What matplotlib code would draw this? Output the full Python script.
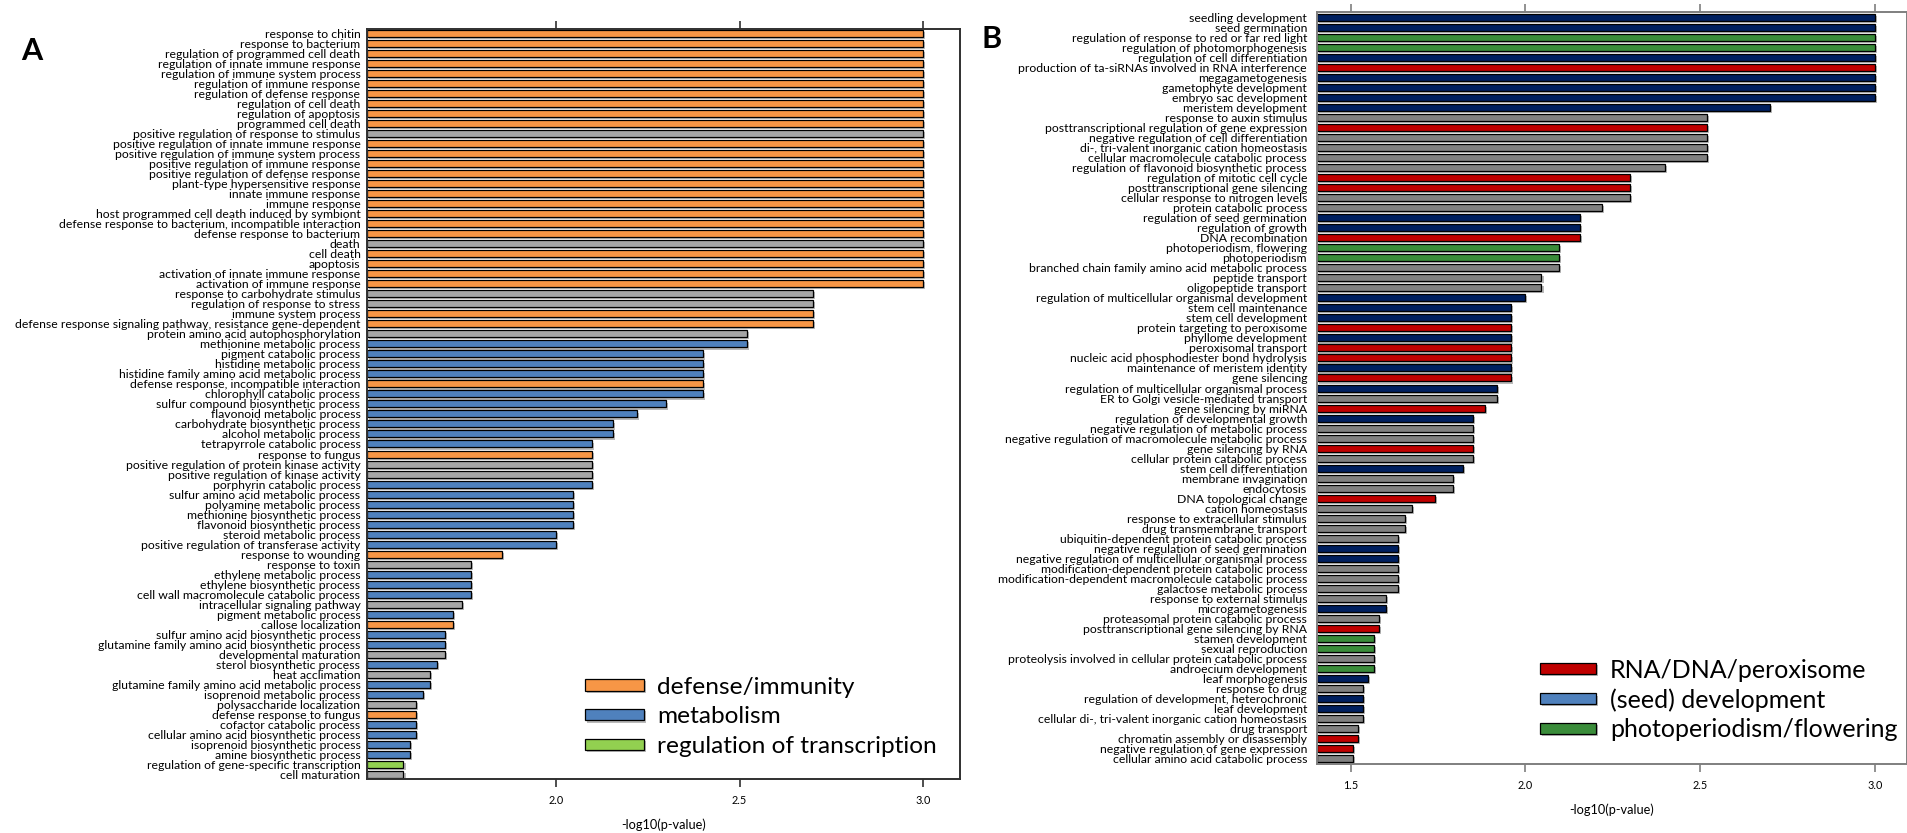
import matplotlib
matplotlib.use("Agg")
import matplotlib.pyplot as plt
import matplotlib.patheffects as pe
from matplotlib.patches import Patch
import numpy as np

plt.rcParams['font.family'] = ['Lato', 'DejaVu Sans']

# Panel A: GO terms, -log10(p-value), functional group
terms_a = [
    "response to chitin", "response to bacterium", "regulation of programmed cell death",
    "regulation of innate immune response", "regulation of immune system process",
    "regulation of immune response", "regulation of defense response", "regulation of cell death",
    "regulation of apoptosis", "programmed cell death", "positive regulation of response to stimulus",
    "positive regulation of innate immune response", "positive regulation of immune system process",
    "positive regulation of immune response", "positive regulation of defense response",
    "plant-type hypersensitive response", "innate immune response", "immune response",
    "host programmed cell death induced by symbiont",
    "defense response to bacterium, incompatible interaction", "defense response to bacterium",
    "death", "cell death", "apoptosis", "activation of innate immune response",
    "activation of immune response", "response to carbohydrate stimulus",
    "regulation of response to stress", "immune system process",
    "defense response signaling pathway, resistance gene-dependent",
    "protein amino acid autophosphorylation", "methionine metabolic process",
    "pigment catabolic process", "histidine metabolic process",
    "histidine family amino acid metabolic process", "defense response, incompatible interaction",
    "chlorophyll catabolic process", "sulfur compound biosynthetic process",
    "flavonoid metabolic process", "carbohydrate biosynthetic process", "alcohol metabolic process",
    "tetrapyrrole catabolic process", "response to fungus",
    "positive regulation of protein kinase activity", "positive regulation of kinase activity",
    "porphyrin catabolic process", "sulfur amino acid metabolic process",
    "polyamine metabolic process", "methionine biosynthetic process",
    "flavonoid biosynthetic process", "steroid metabolic process",
    "positive regulation of transferase activity", "response to wounding", "response to toxin",
    "ethylene metabolic process", "ethylene biosynthetic process",
    "cell wall macromolecule catabolic process", "intracellular signaling pathway",
    "pigment metabolic process", "callose localization", "sulfur amino acid biosynthetic process",
    "glutamine family amino acid biosynthetic process", "developmental maturation",
    "sterol biosynthetic process", "heat acclimation",
    "glutamine family amino acid metabolic process", "isoprenoid metabolic process",
    "polysaccharide localization", "defense response to fungus", "cofactor catabolic process",
    "cellular amino acid biosynthetic process", "isoprenoid biosynthetic process",
    "amine biosynthetic process", "regulation of gene-specific transcription", "cell maturation",
]
scores_a = [
    3.0, 3.0, 3.0, 3.0, 3.0, 3.0, 3.0, 3.0, 3.0, 3.0,
    3.0, 3.0, 3.0, 3.0, 3.0, 3.0, 3.0, 3.0, 3.0, 3.0,
    3.0, 3.0, 3.0, 3.0, 3.0, 3.0, 2.70, 2.70, 2.70, 2.70,
    2.52, 2.52, 2.40, 2.40, 2.40, 2.40, 2.40, 2.30, 2.22, 2.155,
    2.155, 2.097, 2.097, 2.097, 2.097, 2.097, 2.046, 2.046, 2.046, 2.046,
    2.0, 2.0, 1.854, 1.77, 1.77, 1.77, 1.77, 1.745, 1.721, 1.721,
    1.699, 1.699, 1.699, 1.677, 1.658, 1.658, 1.638, 1.62, 1.62, 1.62,
    1.62, 1.602, 1.602, 1.585, 1.585,
]
groups_a = [
    "defense", "defense", "defense", "defense", "defense", "defense", "defense", "defense",
    "defense", "defense", "other", "defense", "defense", "defense", "defense", "defense",
    "defense", "defense", "defense", "defense", "defense", "other", "defense", "defense",
    "defense", "defense", "other", "other", "defense", "defense", "other", "metabolism",
    "metabolism", "metabolism", "metabolism", "defense", "metabolism", "metabolism",
    "metabolism", "metabolism", "metabolism", "metabolism", "defense", "other", "other",
    "metabolism", "metabolism", "metabolism", "metabolism", "metabolism", "metabolism",
    "metabolism", "defense", "other", "metabolism", "metabolism", "metabolism", "other",
    "metabolism", "defense", "metabolism", "metabolism", "other", "metabolism", "other",
    "metabolism", "metabolism", "other", "defense", "metabolism", "metabolism", "metabolism",
    "metabolism", "transcription", "other",
]
colors_a = {"defense": "#F79646", "metabolism": "#4F81BD",
            "transcription": "#92D050", "other": "#A6A6A6"}
legend_a = [("defense", "defense/immunity"), ("metabolism", "metabolism"),
            ("transcription", "regulation of transcription")]

# Panel B
terms_b = [
    "seedling development", "seed germination", "regulation of response to red or far red light",
    "regulation of photomorphogenesis", "regulation of cell differentiation",
    "production of ta-siRNAs involved in RNA interference", "megagametogenesis",
    "gametophyte development", "embryo sac development", "meristem development",
    "response to auxin stimulus", "posttranscriptional regulation of gene expression",
    "negative regulation of cell differentiation", "di-, tri-valent inorganic cation homeostasis",
    "cellular macromolecule catabolic process", "regulation of flavonoid biosynthetic process",
    "regulation of mitotic cell cycle", "posttranscriptional gene silencing",
    "cellular response to nitrogen levels", "protein catabolic process",
    "regulation of seed germination", "regulation of growth", "DNA recombination",
    "photoperiodism, flowering", "photoperiodism",
    "branched chain family amino acid metabolic process", "peptide transport",
    "oligopeptide transport", "regulation of multicellular organismal development",
    "stem cell maintenance", "stem cell development", "protein targeting to peroxisome",
    "phyllome development", "peroxisomal transport", "nucleic acid phosphodiester bond hydrolysis",
    "maintenance of meristem identity", "gene silencing",
    "regulation of multicellular organismal process", "ER to Golgi vesicle-mediated transport",
    "gene silencing by miRNA", "regulation of developmental growth",
    "negative regulation of metabolic process",
    "negative regulation of macromolecule metabolic process", "gene silencing by RNA",
    "cellular protein catabolic process", "stem cell differentiation", "membrane invagination",
    "endocytosis", "DNA topological change", "cation homeostasis",
    "response to extracellular stimulus", "drug transmembrane transport",
    "ubiquitin-dependent protein catabolic process", "negative regulation of seed germination",
    "negative regulation of multicellular organismal process",
    "modification-dependent protein catabolic process",
    "modification-dependent macromolecule catabolic process", "galactose metabolic process",
    "response to external stimulus", "microgametogenesis", "proteasomal protein catabolic process",
    "posttranscriptional gene silencing by RNA", "stamen development", "sexual reproduction",
    "proteolysis involved in cellular protein catabolic process", "androecium development",
    "leaf morphogenesis", "response to drug", "regulation of development, heterochronic",
    "leaf development", "cellular di-, tri-valent inorganic cation homeostasis", "drug transport",
    "chromatin assembly or disassembly", "negative regulation of gene expression",
    "cellular amino acid catabolic process",
]
scores_b = [
    3.0, 3.0, 3.0, 3.0, 3.0, 3.0, 3.0, 3.0, 3.0, 2.70,
    2.52, 2.52, 2.52, 2.52, 2.52, 2.40, 2.30, 2.30, 2.30, 2.22,
    2.155, 2.155, 2.155, 2.097, 2.097, 2.097, 2.046, 2.046, 2.0, 1.958,
    1.958, 1.958, 1.958, 1.958, 1.958, 1.958, 1.958, 1.918, 1.918, 1.883,
    1.85, 1.85, 1.85, 1.85, 1.85, 1.822, 1.793, 1.793, 1.74, 1.675,
    1.656, 1.656, 1.636, 1.636, 1.636, 1.636, 1.636, 1.636, 1.60, 1.60,
    1.582, 1.582, 1.566, 1.566, 1.566, 1.566, 1.549, 1.535, 1.535, 1.535,
    1.535, 1.52, 1.52, 1.506, 1.506,
]
groups_b = [
    "dev", "dev", "flower", "flower", "dev", "rna", "dev", "dev", "dev", "dev",
    "other", "rna", "other", "other", "other", "other", "rna", "rna", "other", "other",
    "dev", "dev", "rna", "flower", "flower", "other", "other", "other", "dev", "dev",
    "dev", "rna", "dev", "rna", "rna", "dev", "rna", "dev", "other", "rna",
    "dev", "other", "other", "rna", "other", "dev", "other", "other", "rna", "other",
    "other", "other", "other", "dev", "dev", "other", "other", "other", "other", "dev",
    "other", "rna", "flower", "flower", "other", "flower", "dev", "other", "dev", "dev",
    "other", "other", "rna", "rna", "other",
]
colors_b = {"rna": "#C00000", "dev": "#002060", "flower": "#3A8C3A", "other": "#808080"}
legend_b = [("#C00000", "RNA/DNA/peroxisome"), ("#4F81BD", "(seed) development"),
            ("#3A8C3A", "photoperiodism/flowering")]

shadow = [pe.SimplePatchShadow(offset=(1.5, -1.5), shadow_rgbFace="#8c8c8c", alpha=0.6),
          pe.Normal()]


def draw_panel(ax, terms, scores, colors, xlim, xticks, spine_color, label_pad, label_size):
    y = np.arange(len(terms))
    ax.barh(y, np.array(scores) - xlim[0], left=xlim[0], height=0.7,
            color=colors, edgecolor="black", linewidth=0.9, path_effects=shadow)
    ax.set_yticks(y)
    ax.set_yticklabels(terms, fontsize=label_size)
    ax.set_ylim(len(terms) - 0.5, -0.5)
    ax.set_xlim(*xlim)
    ax.set_xticks(xticks)
    ax.set_xticklabels([f"{t:.1f}" for t in xticks], fontsize=7.8)
    ax.tick_params(axis="y", length=0, pad=label_pad)
    ax.tick_params(axis="x", direction="out", length=5.5, width=1.2, color=spine_color,
                   top=True, bottom=True, labeltop=False, pad=6)
    for s in ax.spines.values():
        s.set_color(spine_color)
        s.set_linewidth(1.4)
    ax.set_xlabel("-log10(p-value)", fontsize=9.2)
    ax.xaxis.set_label_coords(0.5, -0.061)
    ax.xaxis.label.set_va("center")


fig = plt.figure(figsize=(19.07, 8.33), dpi=100)

ax_a = fig.add_axes([0.1923, 0.0645, 0.3111, 0.9011])
draw_panel(ax_a, terms_a, scores_a, [colors_a[g] for g in groups_a],
           (1.485, 3.1), [2.0, 2.5, 3.0], "#303030", 4.5, 8.8)
handles_a = [Patch(facecolor=colors_a[k], edgecolor="black", linewidth=0.9,
                   path_effects=shadow, label=lab) for k, lab in legend_a]
ax_a.legend(handles=handles_a, loc="center left", bbox_to_anchor=(0.3068, 0.1393),
            bbox_transform=fig.transFigure, frameon=False, fontsize=17.6,
            handlelength=2.4, handleheight=0.35, handletextpad=0.55,
            labelspacing=0.36, borderpad=0, borderaxespad=0)

ax_b = fig.add_axes([0.6905, 0.0832, 0.3095, 0.9020])
draw_panel(ax_b, terms_b, scores_b, [colors_b[g] for g in groups_b],
           (1.403, 3.092), [1.5, 2.0, 2.5, 3.0], "#7f7f7f", 7, 8.8)
handles_b = [Patch(facecolor=c, edgecolor="black", linewidth=0.9,
                   path_effects=shadow, label=lab) for c, lab in legend_b]
ax_b.legend(handles=handles_b, loc="center left", bbox_to_anchor=(0.8076, 0.1597),
            bbox_transform=fig.transFigure, frameon=False, fontsize=18,
            handlelength=2.25, handleheight=0.27, handletextpad=0.55,
            labelspacing=0.26, borderpad=0, borderaxespad=0)

fig.text(21 / 1907, 1 - 51 / 833, "A", fontsize=22, fontweight="bold", va="center", ha="left")
fig.text(981 / 1907, 1 - 39 / 833, "B", fontsize=22, fontweight="bold", va="center", ha="left")

fig.savefig("out.png", dpi=100)
